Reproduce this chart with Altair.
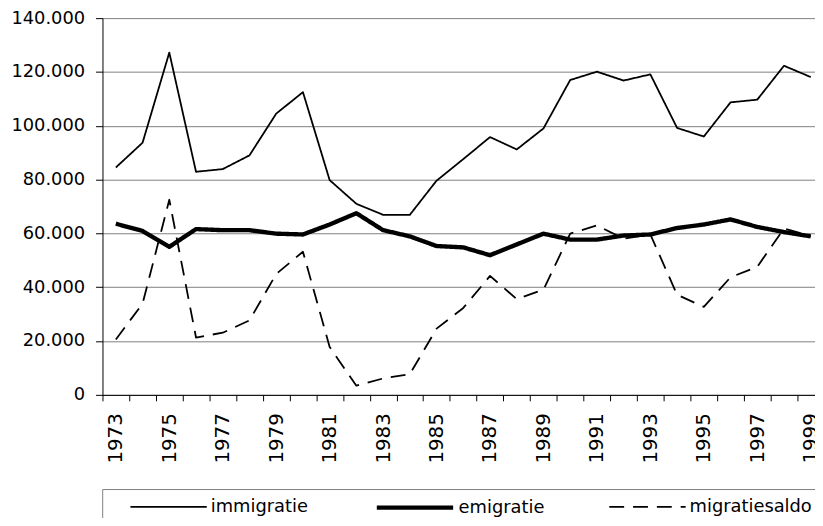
import altair as alt
import pandas as pd

years = list(range(1973, 2000))
series = ["immigratie", "emigratie", "migratiesaldo"]
immigratie = [84500, 93700, 127200, 82900, 83900, 89000, 104500, 112500, 79800,
              71000, 66900, 66900, 79600, 87600, 95800, 91200, 99000, 117000,
              120100, 116800, 119100, 99200, 96000, 108700, 109700, 122300, 118100]
emigratie = [63600, 60900, 55000, 61600, 61200, 61200, 59900, 59600, 63300,
             67500, 61200, 58900, 55300, 54800, 51900, 55900, 59900, 57700,
             57700, 59200, 59600, 62000, 63300, 65200, 62400, 60500, 58900]
migratiesaldo = [20600, 33900, 72500, 21300, 23100, 27700, 44900, 53200, 17800,
                 3400, 6100, 7700, 24600, 32300, 44200, 35600, 39100, 59900,
                 63000, 58000, 59600, 37200, 32700, 43700, 47600, 61800, 59000]
y_ticks = [0, 20000, 40000, 60000, 80000, 100000, 120000, 140000]
x_ticks = [y - 0.5 for y in years]  # category boundaries

rows = []
for name, vals in zip(series, [immigratie, emigratie, migratiesaldo]):
    for yr, v in zip(years, vals):
        rows.append({"jaar": yr, "waarde": v, "reeks": name})
df = pd.DataFrame(rows)

FONT = "DejaVu Sans"

leg = alt.Legend(
    title=" ", titleOrient="left", titlePadding=50, titleFontSize=1,
    orient="none", legendX=-0.3, legendY=475, direction="horizontal",
    symbolType="M-3.85,0H3.85", symbolSize=400, symbolStrokeColor="black",
    labelFont=FONT, labelFontSize=18, labelColor="black", labelOffset=31.5,
    columnPadding=60, padding=6, strokeColor="#808080", fillColor="white",
)

chart = alt.Chart(df).mark_line(color="black", strokeJoin="round").encode(
    x=alt.X("jaar:Q", title=None,
            scale=alt.Scale(domain=[1972.5, 1999.16], nice=False, zero=False),
            axis=alt.Axis(values=x_ticks, grid=False, tickSize=6, tickColor="black",
                          domainColor="black", labelAngle=270, labelAlign="right",
                          labelBaseline="middle", labelOffset=13.48, labelPadding=12,
                          labelFont=FONT, labelFontSize=20, labelColor="black",
                          labelOverlap=False, labelFlush=False, labelBound=False,
                          labelExpr="((datum.value + 0.5) % 2 == 1) ? format(datum.value + 0.5, 'd') : ''")),
    y=alt.Y("waarde:Q", title=None,
            scale=alt.Scale(domain=[0, 140000], nice=False),
            axis=alt.Axis(values=y_ticks, grid=True, gridColor="#808080", gridWidth=1,
                          tickSize=7, tickColor="black", domainColor="black",
                          labelPadding=11, labelFont=FONT, labelFontSize=18,
                          labelColor="black",
                          labelExpr="replace(format(datum.value, ','), ',', '.')")),
    strokeDash=alt.StrokeDash("reeks:N",
                              scale=alt.Scale(domain=series, range=[[1, 0], [1, 0], [15, 9]]),
                              legend=leg),
    strokeWidth=alt.StrokeWidth("reeks:N",
                                scale=alt.Scale(type="ordinal", domain=series, range=[1.8, 4.4, 1.8]),
                                legend=leg),
).properties(
    width=718.7, height=380,
    padding={"left": 95.3, "top": 8, "right": 0, "bottom": 122},
    autosize=alt.AutoSizeParams(type="none"),
).configure_view(stroke=None)

chart.save("out.html", embed_options={"renderer": "svg", "actions": False})
